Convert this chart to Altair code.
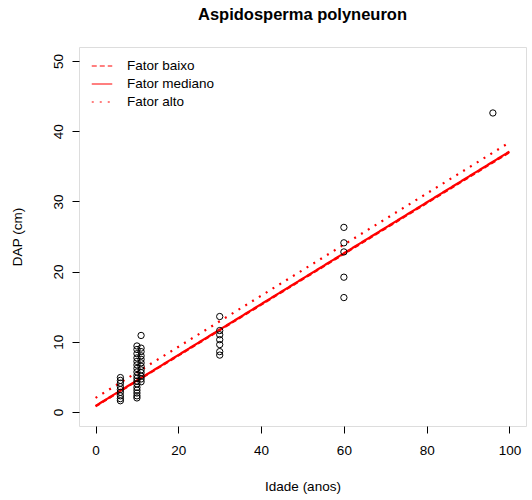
import altair as alt
import pandas as pd

# observed points: Idade (anos) and DAP (cm)
idade_6 = [6] * 9
dap_6 = [4.9, 4.5, 4.1, 3.6, 3.2, 2.8, 2.3, 1.9, 1.6]
idade_10 = [10] * 17
dap_10 = [9.4, 8.9, 8.3, 7.7, 7.2, 6.7, 6.2, 5.7, 5.2, 4.8, 4.4, 4.0, 3.5, 3.1, 2.7, 2.3, 2.0]
idade_11 = [11] * 12
dap_11 = [10.9, 9.1, 8.6, 8.0, 7.5, 7.0, 6.5, 6.0, 5.6, 5.1, 4.7, 4.3]
idade_30 = [30] * 7
dap_30 = [13.6, 11.6, 11.0, 10.3, 9.6, 8.6, 8.1]
idade_60 = [60] * 5
dap_60 = [26.3, 24.1, 22.8, 19.2, 16.3]
idade_96 = [96]
dap_96 = [42.6]

# fitted lines
line_idade = [0, 100]
fator_baixo = [0.8, 37.0]
fator_mediano = [0.86, 37.1]
fator_alto = [2.0, 38.4]
series_names = ["Fator baixo", "Fator mediano", "Fator alto"]
series_colors = ["red", "red", "red"]

x_ticks = [0, 20, 40, 60, 80, 100]
y_ticks = [0, 10, 20, 30, 40, 50]

pts = pd.DataFrame({
    "Idade": idade_6 + idade_10 + idade_11 + idade_30 + idade_60 + idade_96,
    "DAP": dap_6 + dap_10 + dap_11 + dap_30 + dap_60 + dap_96,
})

rows = []
for name, vals in zip(series_names, [fator_baixo, fator_mediano, fator_alto]):
    for xv, yv in zip(line_idade, vals):
        rows.append({"Idade": xv, "DAP": yv, "Serie": name})
lines = pd.DataFrame(rows)

FONT = "Liberation Sans"
xscale = alt.Scale(domain=[-4, 104], nice=False, zero=False)
yscale = alt.Scale(domain=[-2, 52], nice=False, zero=False)

xaxis = alt.Axis(values=x_ticks, title="Idade (anos)", domain=False, grid=False,
                 tickColor="black", tickSize=7, labelPadding=10, labelFontSize=13.5,
                 labelFont=FONT, labelColor="black", titleFont=FONT, titleFontSize=13.5,
                 titleFontWeight="normal", titleColor="black", titlePadding=23,
                 labelFlush=False)
yaxis = alt.Axis(values=y_ticks, title="DAP (cm)", domain=False, grid=False,
                 tickColor="black", tickSize=7, labelPadding=7, labelFontSize=13.5,
                 labelFont=FONT, labelColor="black", labelAngle=-90,
                 labelAlign="center", labelBaseline="bottom",
                 titleFont=FONT, titleFontSize=13.5, titleFontWeight="normal",
                 titleColor="black", titlePadding=27, labelFlush=False)

points = alt.Chart(pts).mark_point(shape="circle", filled=False, color="black",
                                   size=40, strokeWidth=1, opacity=1).encode(
    x=alt.X("Idade:Q", scale=xscale, axis=xaxis),
    y=alt.Y("DAP:Q", scale=yscale, axis=yaxis),
)

leg = alt.Legend(orient="none", legendX=12, legendY=8, title=None,
                 symbolType="stroke", symbolStrokeWidth=1.2, symbolSize=420,
                 labelFont=FONT, labelFontSize=13.5, labelColor="black",
                 labelOffset=14, rowPadding=0, labelLimit=300)

lns = alt.Chart(lines).mark_line(strokeWidth=2.2).encode(
    x=alt.X("Idade:Q", scale=xscale),
    y=alt.Y("DAP:Q", scale=yscale),
    color=alt.Color("Serie:N", scale=alt.Scale(domain=series_names, range=series_colors),
                    legend=leg),
    strokeDash=alt.StrokeDash(
        "Serie:N",
        scale=alt.Scale(domain=series_names, range=[[5, 3], [1, 0], [2, 6]]),
        legend=leg,
    ),
)

chart = alt.layer(lns, points).properties(
    width=447, height=379,
    title=alt.TitleParams("Aspidosperma polyneuron", font=FONT, fontSize=16.5,
                          fontWeight="bold", color="black", anchor="middle", offset=24),
    autosize=alt.AutoSizeParams(type="none"),
    padding={"left": 79, "top": 47, "right": 6, "bottom": 74},
).configure_view(stroke="black", strokeWidth=1).configure(background="white")

chart.save("out.html", embed_options={"renderer": "svg", "actions": False})
